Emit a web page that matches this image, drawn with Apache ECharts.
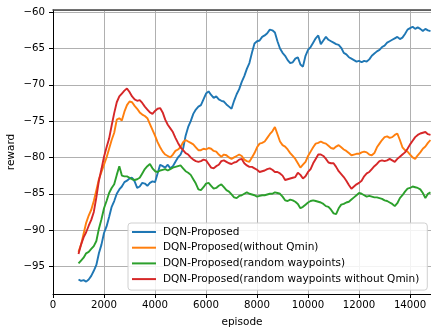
<!DOCTYPE html>
<html>
<head>
<meta charset="utf-8">
<script src="https://cdn.jsdelivr.net/npm/echarts@6/dist/echarts.min.js"></script>
<style>html,body{margin:0;padding:0;background:#fff}#c{width:431px;height:329px}</style>
</head>
<body>
<div id="c"></div>
<script>
const seriesNames = ['DQN-Proposed','DQN-Proposed(without Qmin)','DQN-Proposed(random waypoints)','DQN-Proposed(random waypoints without Qmin)'];
const colors = ['#1f77b4','#ff7f0e','#2ca02c','#d62728'];
const episodeStart = 1000, episodeStep = 100;

const proposed = [
-96.8,-97.0,-96.9,-97.1,-96.8,-96.3,-95.6,-94.8,-93.2,-92.0,
-90.4,-89.5,-88.2,-86.8,-86.0,-85.0,-84.4,-84.0,-83.4,-83.2,
-82.9,-82.8,-83.3,-84.2,-84.0,-83.5,-83.6,-83.9,-83.5,-83.3,
-83.4,-82.2,-81.0,-81.2,-81.4,-81.0,-81.5,-81.2,-80.6,-80.0,
-79.6,-78.8,-77.0,-75.8,-75.0,-74.0,-73.4,-73.0,-72.8,-72.0,
-71.2,-70.9,-71.4,-71.8,-71.6,-72.0,-72.2,-72.3,-72.7,-73.0,
-73.3,-72.2,-71.3,-70.6,-69.6,-68.8,-67.8,-67.0,-65.6,-64.3,
-64.0,-63.9,-63.4,-63.2,-62.9,-62.4,-62.5,-62.8,-64.0,-65.0,
-65.6,-66.0,-66.6,-67.0,-66.9,-66.4,-66.2,-67.2,-67.5,-66.0,
-65.2,-64.8,-64.2,-63.6,-63.2,-64.4,-63.9,-63.4,-63.8,-64.0,
-64.2,-64.4,-64.5,-64.9,-65.6,-65.8,-66.2,-66.4,-66.6,-66.8,
-66.7,-66.9,-66.7,-66.8,-66.5,-66.0,-65.7,-65.4,-65.2,-64.8,
-64.6,-64.2,-64.0,-63.8,-63.6,-63.4,-63.7,-63.5,-63.0,-62.4,
-62.2,-62.0,-62.3,-62.1,-62.3,-62.6,-62.3,-62.5,-62.6];

const withoutQmin = [
-93.0,-92.0,-90.5,-89.0,-88.0,-87.2,-86.0,-84.5,-83.0,-82.0,
-81.0,-80.0,-78.8,-77.6,-76.6,-74.8,-74.6,-74.9,-73.7,-72.8,
-72.3,-72.4,-72.9,-73.3,-73.8,-74.1,-74.3,-74.6,-75.4,-76.2,
-77.0,-77.9,-78.6,-79.2,-79.6,-79.8,-80.0,-79.6,-79.1,-78.9,
-78.6,-77.9,-77.6,-77.8,-78.0,-78.2,-78.6,-79.0,-79.0,-78.8,
-78.9,-78.7,-78.8,-79.1,-79.2,-79.6,-79.9,-79.6,-79.7,-80.0,
-80.2,-80.0,-79.8,-79.6,-79.8,-80.3,-80.5,-80.6,-80.0,-79.4,
-78.6,-78.1,-78.0,-77.8,-77.3,-76.8,-76.4,-75.8,-76.8,-77.8,
-78.3,-78.5,-78.9,-79.4,-79.8,-80.2,-80.8,-81.4,-81.0,-80.6,
-79.8,-79.2,-78.6,-78.1,-78.0,-77.8,-78.0,-78.1,-78.4,-78.7,
-78.8,-78.5,-78.3,-78.6,-78.9,-79.1,-79.4,-79.7,-79.6,-79.5,
-79.5,-79.3,-79.2,-79.3,-79.6,-79.7,-79.4,-78.6,-78.1,-77.6,
-77.2,-77.1,-77.3,-77.2,-76.9,-76.7,-77.6,-78.6,-79.0,-79.2,
-79.6,-80.0,-80.2,-79.7,-79.3,-78.8,-78.5,-78.0,-77.6];

const randomWaypoints = [
-94.6,-94.2,-93.8,-93.2,-93.0,-92.6,-92.2,-91.5,-89.8,-88.5,
-87.0,-86.0,-84.9,-84.2,-83.7,-82.4,-81.2,-82.5,-82.6,-82.6,
-82.8,-83.0,-83.1,-83.0,-82.8,-82.2,-81.6,-81.2,-80.9,-81.5,
-81.9,-82.0,-81.8,-81.7,-81.6,-81.8,-81.6,-81.4,-81.3,-81.2,
-81.1,-81.5,-81.9,-82.1,-82.4,-83.0,-83.6,-84.4,-84.5,-84.1,
-83.6,-83.5,-83.9,-84.3,-84.2,-83.9,-83.7,-84.1,-84.5,-84.7,
-85.1,-85.5,-85.6,-85.3,-85.2,-85.0,-84.8,-85.0,-85.1,-85.2,
-85.4,-85.3,-85.2,-85.2,-85.1,-85.0,-85.0,-84.8,-84.9,-85.0,
-85.4,-85.9,-86.0,-85.8,-85.9,-86.1,-86.4,-87.0,-86.8,-86.5,
-86.2,-86.0,-85.9,-86.0,-86.1,-86.2,-86.4,-86.7,-86.8,-87.2,
-87.7,-87.8,-87.0,-86.5,-86.4,-86.2,-86.1,-85.8,-85.5,-85.2,
-84.9,-85.0,-85.2,-85.4,-85.3,-85.4,-85.5,-85.5,-85.6,-85.7,
-85.9,-86.0,-86.2,-86.4,-86.7,-86.3,-85.6,-85.2,-84.7,-84.3,
-84.2,-84.0,-84.1,-84.2,-84.4,-84.9,-85.6,-85.0,-84.8];

const randomWaypointsWithoutQmin = [
-93.3,-92.0,-91.0,-90.3,-89.4,-88.6,-87.5,-85.5,-83.2,-81.6,
-79.9,-78.6,-77.4,-75.6,-73.9,-72.4,-71.6,-71.2,-70.8,-70.5,
-71.0,-71.6,-72.0,-72.2,-72.1,-72.5,-73.0,-73.4,-73.8,-74.0,
-73.6,-73.3,-73.2,-73.8,-74.8,-75.5,-76.0,-76.5,-77.3,-78.0,
-78.6,-79.0,-79.4,-79.6,-80.0,-80.3,-80.5,-80.6,-80.5,-80.3,
-80.4,-80.9,-81.4,-81.5,-81.2,-81.0,-80.5,-80.4,-80.6,-80.8,
-80.9,-80.7,-80.6,-80.3,-80.2,-80.8,-81.1,-81.3,-81.3,-81.5,
-81.7,-82.0,-81.9,-81.8,-81.6,-81.5,-81.7,-82.0,-82.0,-82.2,
-82.5,-83.1,-83.0,-82.9,-82.8,-82.7,-82.1,-82.4,-82.9,-82.6,
-82.0,-81.6,-80.8,-80.2,-79.6,-79.6,-79.8,-80.2,-80.7,-80.8,
-80.8,-81.3,-81.9,-82.3,-82.7,-83.2,-83.8,-84.3,-84.0,-83.7,
-83.5,-83.2,-82.6,-82.2,-82.0,-81.6,-81.2,-80.9,-80.5,-80.4,
-80.5,-80.4,-80.2,-80.4,-80.6,-80.2,-79.9,-79.6,-79.3,-78.8,
-78.2,-77.7,-77.2,-76.9,-76.7,-76.6,-76.5,-76.8,-76.9];

const allValues = [proposed, withoutQmin, randomWaypoints, randomWaypointsWithoutQmin];

function toPairs(vals){ return vals.map((v,i)=>[episodeStart + i*episodeStep, v]); }
const fmt = v => (v < 0 ? '\u2212' : '') + Math.abs(v);
const font = 'DejaVu Sans';

const chart = echarts.init(document.getElementById('c'), null, {renderer:'canvas'});
chart.setOption({
  animation: false,
  backgroundColor: '#fff',
  grid: {left: 53, right: 0, top: 10, bottom: 35, containLabel: false, outerBoundsMode: 'none'},
  xAxis: [{
    type: 'value', min: 0, max: 14820, interval: 2000,
    name: 'episode', nameLocation: 'middle', nameGap: 23, nameMoveOverlap: false,
    nameTextStyle: {fontFamily: font, fontSize: 10.5, color: '#000'},
    axisLine: {show: true, lineStyle: {color: '#000', width: 1}},
    axisTick: {show: true, inside: false, length: 4, lineStyle: {color: '#000'}},
    axisLabel: {fontFamily: font, fontSize: 10.2, color: '#000', margin: 6, formatter: fmt,
      showMaxLabel: false},
    splitLine: {show: true, lineStyle: {color: '#b0b0b0', width: 1}}
  },{
    type: 'value', min: 0, max: 14820, position: 'top',
    axisLine: {show: true, lineStyle: {color: '#444', width: 1.5}},
    axisTick: {show: false}, axisLabel: {show: false}, splitLine: {show: false}
  }],
  yAxis: {
    type: 'value', min: -98.8, max: -59.7, splitNumber: 8,
    name: 'reward', nameLocation: 'middle', nameGap: 36, nameMoveOverlap: false,
    nameTextStyle: {fontFamily: font, fontSize: 10.5, color: '#000'},
    axisLine: {show: true, lineStyle: {color: '#000', width: 1}},
    axisTick: {show: true, inside: false, length: 4, lineStyle: {color: '#000'}},
    axisLabel: {fontFamily: font, fontSize: 10.2, color: '#000', margin: 8, formatter: fmt,
      showMinLabel: false, showMaxLabel: false},
    splitLine: {show: true, lineStyle: {color: '#b0b0b0', width: 1}}
  },
  legend: {
    show: true,
    orient: 'vertical', left: 128, top: 223,
    padding: [3, 8, 5, 4],
    itemGap: 3.7, itemWidth: 24, itemHeight: 2,
    icon: 'rect',
    backgroundColor: 'rgba(255,255,255,0.85)',
    borderColor: '#d0d0d0', borderWidth: 1, borderRadius: 3,
    textStyle: {fontFamily: font, fontSize: 10.5, lineHeight: 12, color: '#000', padding: [0,0,0,2]},
    data: seriesNames
  },
  series: allValues.map((vals, i) => ({
    name: seriesNames[i], type: 'line', xAxisIndex: 0,
    data: toPairs(vals), symbol: 'none', showSymbol: false,
    lineStyle: {color: colors[i], width: 1.9}, itemStyle: {color: colors[i]},
    clip: true, z: 2 + i
  }))
});
</script>
</body>
</html>
